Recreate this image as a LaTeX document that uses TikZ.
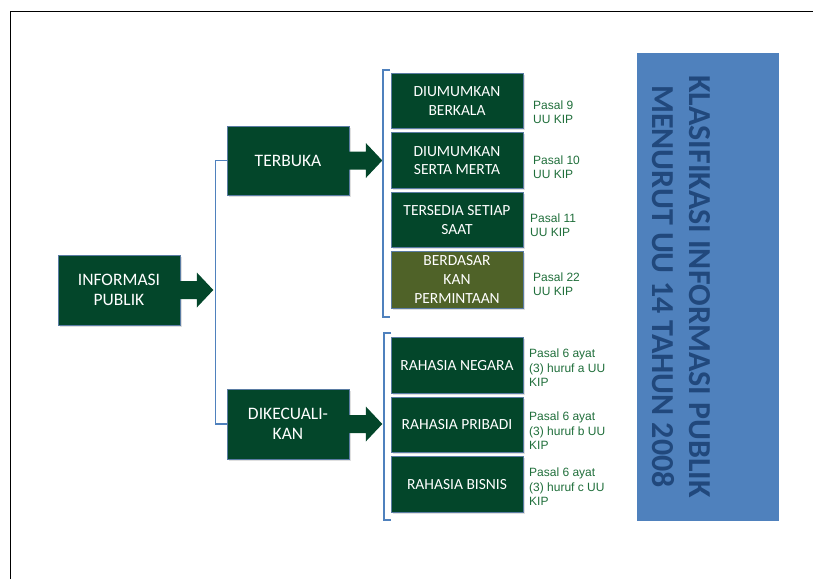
\documentclass[tikz,border=0pt]{standalone}
\usepackage{fontspec}
\setmainfont{Carlito}
\newfontfamily\arialf{Liberation Sans}
\usetikzlibrary{calc,shadows}
\definecolor{boxgreen}{HTML}{03462A}
\definecolor{boxolive}{HTML}{4F6228}
\definecolor{boxedge}{HTML}{5A7CA3}
\definecolor{brblue}{HTML}{4F81BD}
\definecolor{labgreen}{HTML}{1F6E3A}
\definecolor{panelblue}{HTML}{4F81BD}
\definecolor{paneltext}{HTML}{21487C}
\tikzset{
  gbox/.style={rectangle, fill=boxgreen, draw=boxedge, line width=0.6pt, text=white,
    inner sep=0pt, align=center,
    drop shadow={opacity=0.25, shadow xshift=1.5pt, shadow yshift=-1.5pt}},
  bigbox/.style={gbox, minimum width=122pt, minimum height=70pt,
    font=\fontsize{17.5}{20}\selectfont},
  subbox/.style={gbox, minimum width=132pt, minimum height=55.5pt,
    font=\fontsize{15.5}{18.7}\selectfont},
  lab/.style={anchor=west, inner sep=0pt, align=left, text=labgreen,
    font=\arialf\fontsize{12}{14.4}\selectfont},
  brk/.style={draw=brblue, line width=1.3pt},
  barrow/.style={fill=boxgreen}
}
\newcommand\blkarrow[1]{%
  \fill[barrow] ($(#1.east)+(-0.5,-9)$) -- ($(#1.east)+(16.5,-9)$) -- ($(#1.east)+(16.5,-17.5)$)
    -- ($(#1.east)+(33,0)$) -- ($(#1.east)+(16.5,17.5)$) -- ($(#1.east)+(16.5,9)$)
    -- ($(#1.east)+(-0.5,9)$) -- cycle;}
\begin{document}
\begin{tikzpicture}[x=1pt,y=-1pt]
\useasboundingbox (0,0) rectangle (813,579);
% frame
\draw[line width=1.5pt, black] (10.5,579) -- (10.5,11.5) -- (813,11.5);

% left level
\node[bigbox] (ip) at (119,290) {INFORMASI\\PUBLIK};
\node[bigbox, minimum height=69pt] (tb) at (288,160.5) {TERBUKA};
\node[bigbox] (dk) at (288,424) {DIKECUALI-\\KAN};
\blkarrow{ip}
\blkarrow{tb}
\blkarrow{dk}
\draw[brk] (tb.west) -- ++(-11,0) |- (dk.west);

% group 1
\node[subbox] (r1) at (457,101) {DIUMUMKAN\\BERKALA};
\node[subbox] (r2) at (457,160.5) {DIUMUMKAN\\SERTA MERTA};
\node[subbox] (r3) at (457,220) {TERSEDIA SETIAP\\SAAT};
\node[subbox, fill=boxolive, minimum height=57pt] (r4) at (457,279.5) {BERDASAR\\KAN\\PERMINTAAN};
\coordinate (g1t) at (390,70);
\coordinate (g1b) at (390,317);
\draw[brk] (g1t) -- ++(-7,0) -- ($(g1b)+(-7,0)$) -- (g1b);

\node[lab] (l1) at (533,112) {Pasal 9\\UU KIP};
\node[lab] (l2) at (533,167) {Pasal 10\\UU KIP};
\node[lab] (l3) at (530,225) {Pasal 11\\UU KIP};
\node[lab] (l4) at (533,284) {Pasal 22\\UU KIP};

% group 2
\node[subbox] (s1) at (457,365.5) {RAHASIA NEGARA};
\node[subbox] (s2) at (457,425) {RAHASIA PRIBADI};
\node[subbox] (s3) at (457,484.5) {RAHASIA BISNIS};
\coordinate (g2t) at (391,333);
\coordinate (g2b) at (391,520);
\draw[brk] (g2t) -- ++(-7,0) -- ($(g2b)+(-7,0)$) -- (g2b);

\node[lab] (m1) at (529,368) {Pasal 6 ayat\\(3) huruf a UU\\KIP};
\node[lab] (m2) at (529,431) {Pasal 6 ayat\\(3) huruf b UU\\KIP};
\node[lab] (m3) at (529,487) {Pasal 6 ayat\\(3) huruf c UU\\KIP};

% panel
\node[rectangle, fill=panelblue, minimum width=142pt, minimum height=468pt, inner sep=0pt] (pn) at (708,287) {};
\node[rotate=-90, align=center, text=paneltext, inner sep=0pt,
  font=\bfseries\fontsize{32}{37}\selectfont] (pt) at (681,286.5)
  {KLASIFIKASI INFORMASI PUBLIK\\MENURUT UU 14 TAHUN 2008};
\end{tikzpicture}
\end{document}
